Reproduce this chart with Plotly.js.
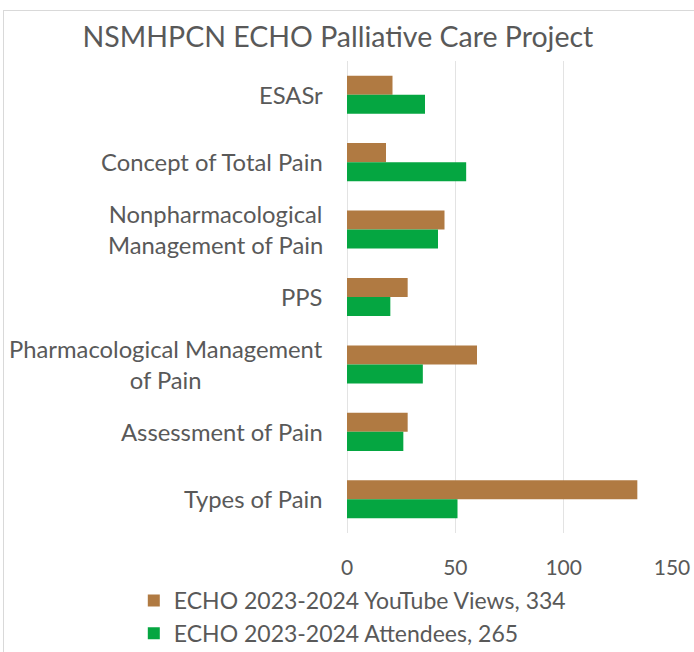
<!DOCTYPE html>
<html>
<head>
<meta charset="utf-8">
<script src="https://cdn.plot.ly/plotly-3.0.1.min.js"></script>
<style>
html,body{margin:0;padding:0;background:#fff;}
#chart{width:694px;height:652px;position:absolute;left:0;top:0;}
#frame{position:absolute;left:3px;top:10px;width:700px;height:660px;border:1px solid #d9d9d9;pointer-events:none;}
</style>
</head>
<body>
<div id="chart"></div>
<div id="frame"></div>
<script>
const categories = ["ESASr", "Concept of Total Pain", "Nonpharmacological<br>Management of Pain", "PPS", "Pharmacological Management<br>of Pain", "Assessment of Pain", "Types of Pain"];
const youtubeViews = [21, 18, 45, 28, 60, 28, 134];
const attendees = [36, 55, 42, 20, 35, 26, 51];
const seriesNames = ["ECHO 2023-2024 YouTube Views, 334", "ECHO 2023-2024 Attendees, 265"];
const tickVals = [0, 50, 100, 150];

const FONT = "Lato, 'Open Sans', sans-serif";
const GREY = "#595959";

const traces = [
  {type: "bar", orientation: "h", y: categories, x: youtubeViews, name: seriesNames[0],
   marker: {color: "#b07a42"}, hoverinfo: "x"},
  {type: "bar", orientation: "h", y: categories, x: attendees, name: seriesNames[1],
   marker: {color: "#05a641"}, hoverinfo: "x"}
];

const annotations = categories.map(c => ({
  x: 0, xref: "paper", xanchor: "right", xshift: -22,
  y: c, yref: "y", yanchor: "middle",
  text: c, showarrow: false, align: "center",
  font: {family: FONT, size: 23.8, color: GREY}
}));

const layout = {
  width: 694, height: 652,
  margin: {l: 347, r: 22, t: 61, b: 119, autoexpand: false},
  paper_bgcolor: "#ffffff", plot_bgcolor: "#ffffff",
  title: {text: "NSMHPCN ECHO Palliative Care Project", font: {family: FONT, size: 28.5, color: GREY},
          x: 0.487, xref: "container", xanchor: "center", y: 1 - 37/652, yref: "container", yanchor: "middle"},
  barmode: "group", bargap: 0.435, bargroupgap: 0,
  xaxis: {range: [0, 150], tickvals: tickVals, ticktext: tickVals.map(String), automargin: false,
          showgrid: true, gridcolor: "#e3e3e3", gridwidth: 1, zeroline: true, zerolinecolor: "#e3e3e3",
          showline: false, ticks: "", ticklen: 0, ticklabelstandoff: 20,
          tickfont: {family: FONT, size: 21, color: GREY}, fixedrange: true},
  yaxis: {type: "category", autorange: "reversed", showticklabels: false, showgrid: false, automargin: false,
          zeroline: false, showline: false, ticks: "", fixedrange: true},
  annotations: annotations,
  showlegend: true,
  legend: {orientation: "v", x: -0.656, xanchor: "left", y: -0.0975, yanchor: "top",
           font: {family: FONT, size: 23, color: GREY}, tracegroupgap: 0, itemwidth: 30,
           bgcolor: "rgba(0,0,0,0)"}
};

Plotly.newPlot("chart", traces, layout, {displayModeBar: false, staticPlot: true});
</script>
</body>
</html>
